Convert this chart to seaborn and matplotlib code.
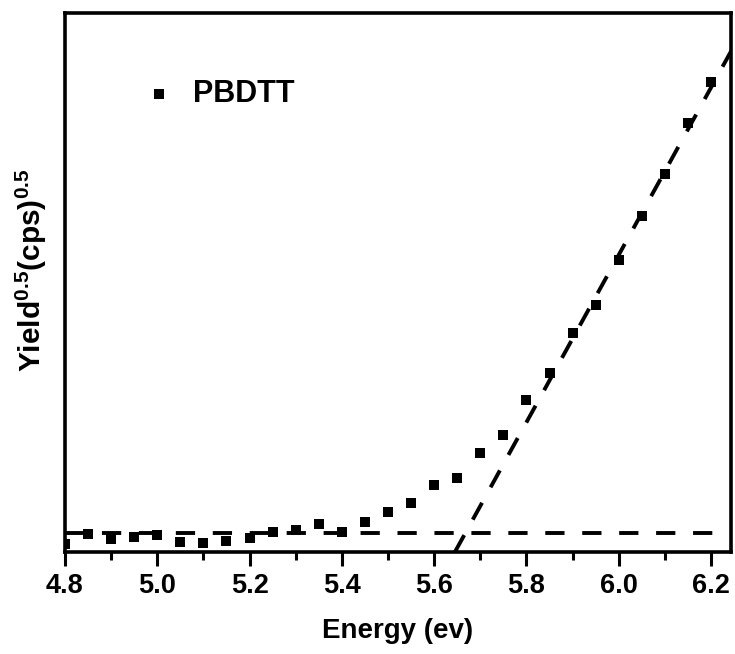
import numpy as np
import pandas as pd
import matplotlib
matplotlib.use("Agg")
import matplotlib.pyplot as plt
from matplotlib.ticker import MultipleLocator, NullLocator, FormatStrFormatter
import seaborn as sns

# Datos
energy = [4.80, 4.85, 4.90, 4.95, 5.00, 5.05, 5.10, 5.15, 5.20, 5.25,
          5.30, 5.35, 5.40, 5.45, 5.50, 5.55, 5.60, 5.65, 5.70, 5.75,
          5.80, 5.85, 5.90, 5.95, 6.00, 6.05, 6.10, 6.15, 6.20]
yield_sqrt = [0.8, 1.8, 1.3, 1.5, 1.7, 1.0, 0.9, 1.1, 1.4, 2.0,
              2.2, 2.8, 2.0, 3.0, 4.0, 4.9, 6.7, 7.4, 9.9, 11.7,
              15.2, 17.9, 21.9, 24.7, 29.2, 33.6, 37.8, 42.9, 47.0]
series_name = "PBDTT"

# Ajustes lineales (línea base y umbral)
baseline_level = 1.9
baseline_range = [4.80, 6.22]
onset_energy = 5.645
fit_slope = 83.7
fit_range = [5.645, 6.35]

df = pd.DataFrame({"energy": energy, "yield": yield_sqrt})

sns.set_theme(style="ticks")
plt.rcParams["font.family"] = ["Liberation Sans", "DejaVu Sans"]
plt.rcParams["font.weight"] = "bold"
plt.rcParams["text.color"] = "black"
plt.rcParams["axes.labelcolor"] = "black"
plt.rcParams["xtick.color"] = "black"
plt.rcParams["ytick.color"] = "black"
plt.rcParams["mathtext.fontset"] = "custom"
plt.rcParams["mathtext.rm"] = "Liberation Sans:bold"
plt.rcParams["mathtext.bf"] = "Liberation Sans:bold"
plt.rcParams["mathtext.default"] = "bf"

fig = plt.figure(figsize=(7.35, 6.54), dpi=100)
ax = fig.add_axes([0.0884, 0.156, 0.906, 0.824])

dash_style = (0, (4.95, 4.55))

# Líneas de ajuste
bx = np.array(baseline_range)
sns.lineplot(x=bx, y=np.full_like(bx, baseline_level), ax=ax, color="black",
             lw=2.8, linestyle=dash_style, zorder=2)
fx = np.array(fit_range)
sns.lineplot(x=fx, y=fit_slope * (fx - onset_energy), ax=ax, color="black",
             lw=2.8, linestyle=dash_style, zorder=2)

# Puntos
sns.scatterplot(data=df, x="energy", y="yield", ax=ax, marker="s", s=55,
                color="black", linewidth=0, label=series_name, zorder=3)

ax.set_xlim(4.8, 6.243)
ax.set_ylim(0, 53.9)
ax.xaxis.set_major_locator(MultipleLocator(0.2))
ax.xaxis.set_minor_locator(MultipleLocator(0.1))
ax.yaxis.set_major_locator(NullLocator())
ax.xaxis.set_major_formatter(FormatStrFormatter("%.1f"))
ax.tick_params(axis="x", which="major", length=10, width=2.2, direction="out",
               labelsize=19.5, pad=5)
ax.tick_params(axis="x", which="minor", length=6, width=2.2, direction="out")
for lbl in ax.get_xticklabels():
    lbl.set_fontweight("bold")

for sp in ax.spines.values():
    sp.set_visible(True)
    sp.set_linewidth(2.6)
    sp.set_color("black")

ax.set_xlabel("Energy (ev)", fontsize=20, fontweight="bold", labelpad=14)
ax.set_ylabel(r"Yield$^{0.5}$(cps)$^{0.5}$", fontsize=21.5, fontweight="bold")
ax.yaxis.set_label_coords(-0.024, 0.523)

ax.legend(loc="upper left", bbox_to_anchor=(0.105, 0.9), frameon=False,
          handlelength=0.8, handletextpad=0.7, borderaxespad=0,
          prop={"size": 22, "weight": "bold"})

fig.savefig("out.png", dpi=100)
